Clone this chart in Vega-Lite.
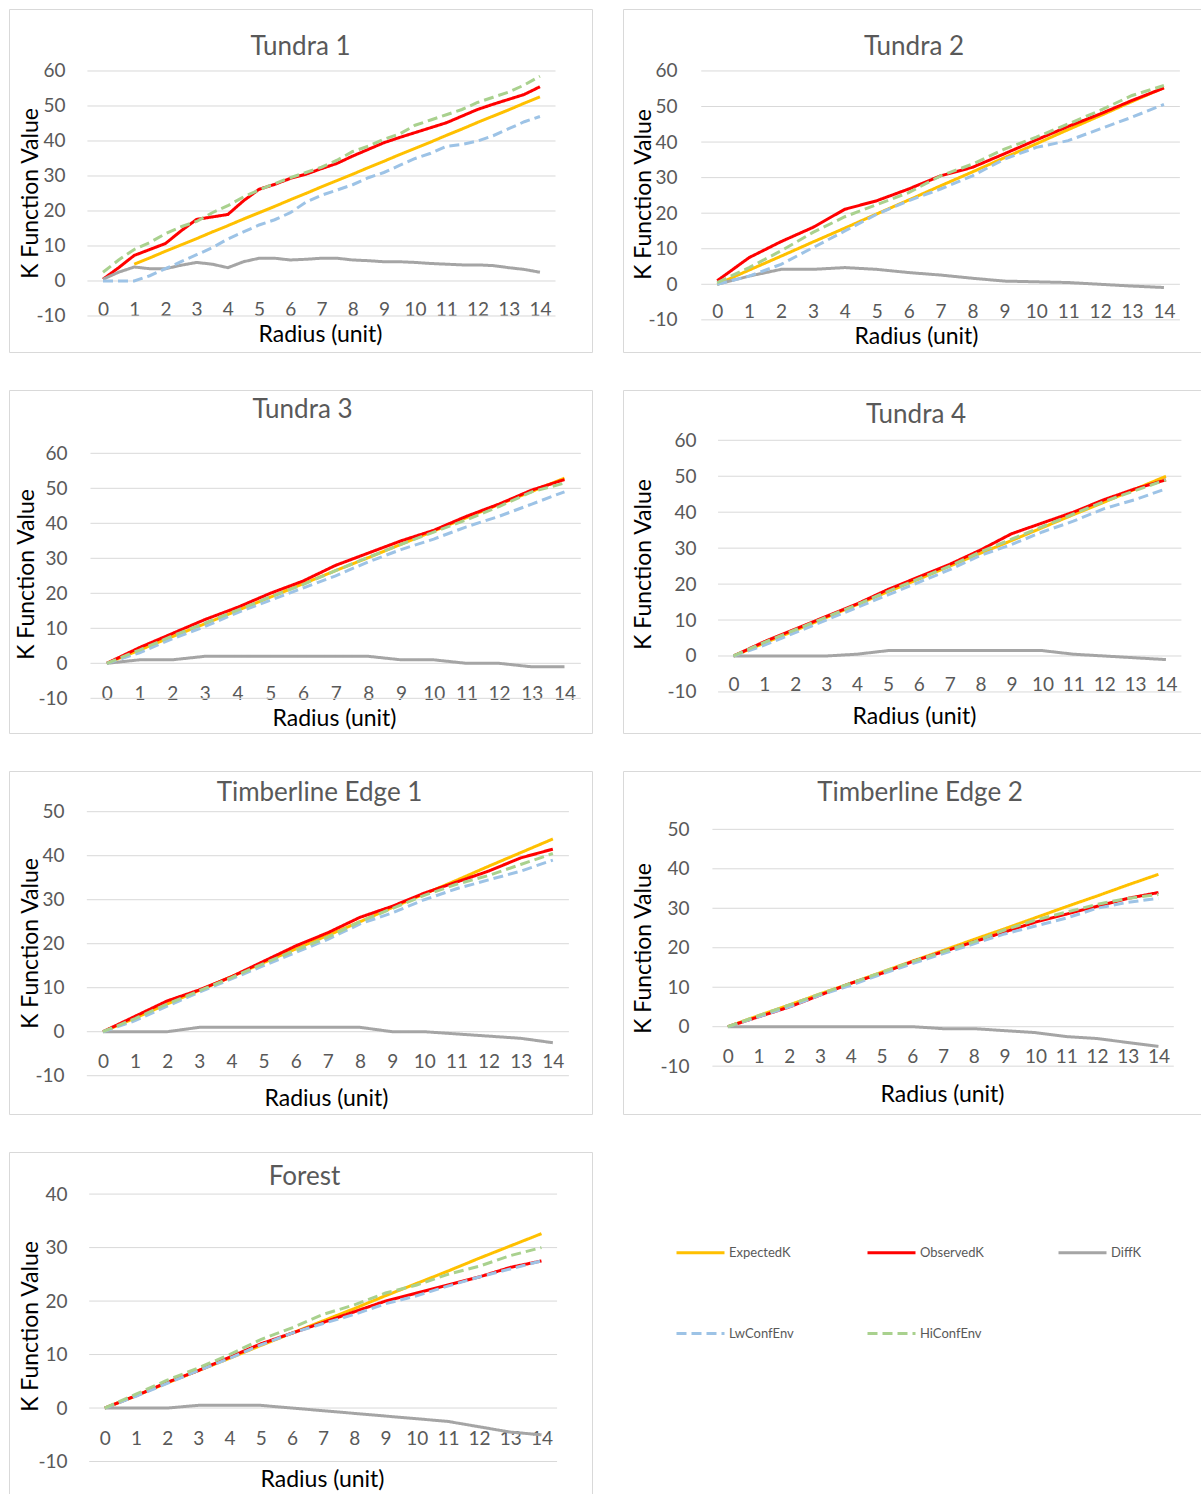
{
  "$schema": "https://vega.github.io/schema/vega-lite/v6.json",
  "background": "white",
  "padding": {"left": 8, "top": 8, "right": 0, "bottom": 0},
  "config": {
    "view": {"stroke": "#D9D9D9", "strokeWidth": 1},
    "title": {"font": "Lato", "fontSize": 26, "fontWeight": "normal", "color": "#595959", "anchor": "middle", "frame": "group"},
    "axis": {"grid": false, "domain": false, "ticks": false, "tickSize": 0, "labelPadding": 0, "labelFont": "Lato", "labelFontSize": 19, "labelColor": "#595959", "labelExpr": "'' + datum.value", "titleFont": "Lato", "titleFontSize": 23, "titleFontWeight": "normal", "titleColor": "#000000", "titleBaseline": "middle", "titleAlign": "center", "labelOverlap": false, "labelBound": false, "labelFlush": false},
    "legend": {"orient": "none", "legendX": 666, "legendY": 1218, "direction": "horizontal", "columns": 3, "symbolType": "stroke", "symbolSize": 2304, "symbolStrokeWidth": 3, "labelFont": "Lato", "labelFontSize": 13, "labelColor": "#595959", "labelOffset": 3, "columnPadding": 67, "rowPadding": 48, "gridAlign": "all", "padding": 0}
  },
  "datasets": {
    "g60": [{"g": -10}, {"g": 0}, {"g": 10}, {"g": 20}, {"g": 30}, {"g": 40}, {"g": 50}, {"g": 60}],
    "g50": [{"g": -10}, {"g": 0}, {"g": 10}, {"g": 20}, {"g": 30}, {"g": 40}, {"g": 50}],
    "g40": [{"g": -10}, {"g": 0}, {"g": 10}, {"g": 20}, {"g": 30}, {"g": 40}],
    "k": [
      {"p": "Tundra 1", "r": 0, "ExpectedK": null, "ObservedK": 0.5, "DiffK": 0.5, "LwConfEnv": 0, "HiConfEnv": 2.5},
      {"p": "Tundra 1", "r": 0.5, "ExpectedK": null, "ObservedK": 3.8, "DiffK": 2.5, "LwConfEnv": 0, "HiConfEnv": 6},
      {"p": "Tundra 1", "r": 1, "ExpectedK": 4.8, "ObservedK": 7.3, "DiffK": 4, "LwConfEnv": 0, "HiConfEnv": 9},
      {"p": "Tundra 1", "r": 1.5, "ExpectedK": 6.6, "ObservedK": 9, "DiffK": 3.5, "LwConfEnv": 1.5, "HiConfEnv": 11},
      {"p": "Tundra 1", "r": 2, "ExpectedK": 8.5, "ObservedK": 10.7, "DiffK": 3.5, "LwConfEnv": 3.5, "HiConfEnv": 13.5},
      {"p": "Tundra 1", "r": 2.5, "ExpectedK": 10.3, "ObservedK": 14.3, "DiffK": 4.5, "LwConfEnv": 5.5, "HiConfEnv": 15.5},
      {"p": "Tundra 1", "r": 3, "ExpectedK": 12.1, "ObservedK": 17.6, "DiffK": 5.3, "LwConfEnv": 7.5, "HiConfEnv": 17},
      {"p": "Tundra 1", "r": 3.5, "ExpectedK": 14, "ObservedK": 18.3, "DiffK": 4.8, "LwConfEnv": 9.5, "HiConfEnv": 19.5},
      {"p": "Tundra 1", "r": 4, "ExpectedK": 15.8, "ObservedK": 19, "DiffK": 3.8, "LwConfEnv": 12, "HiConfEnv": 21.5},
      {"p": "Tundra 1", "r": 4.5, "ExpectedK": 17.7, "ObservedK": 22.9, "DiffK": 5.5, "LwConfEnv": 14, "HiConfEnv": 24},
      {"p": "Tundra 1", "r": 5, "ExpectedK": 19.5, "ObservedK": 26.2, "DiffK": 6.5, "LwConfEnv": 16, "HiConfEnv": 26},
      {"p": "Tundra 1", "r": 5.5, "ExpectedK": 21.3, "ObservedK": 27.6, "DiffK": 6.5, "LwConfEnv": 17.5, "HiConfEnv": 27.8},
      {"p": "Tundra 1", "r": 6, "ExpectedK": 23.2, "ObservedK": 29.3, "DiffK": 6, "LwConfEnv": 19.5, "HiConfEnv": 29.5},
      {"p": "Tundra 1", "r": 6.5, "ExpectedK": 25, "ObservedK": 30.5, "DiffK": 6.2, "LwConfEnv": 22.5, "HiConfEnv": 31},
      {"p": "Tundra 1", "r": 7, "ExpectedK": 26.9, "ObservedK": 32.1, "DiffK": 6.5, "LwConfEnv": 24.5, "HiConfEnv": 32.5},
      {"p": "Tundra 1", "r": 7.5, "ExpectedK": 28.7, "ObservedK": 33.6, "DiffK": 6.5, "LwConfEnv": 26, "HiConfEnv": 34.5},
      {"p": "Tundra 1", "r": 8, "ExpectedK": 30.5, "ObservedK": 35.7, "DiffK": 6, "LwConfEnv": 27.5, "HiConfEnv": 37},
      {"p": "Tundra 1", "r": 8.5, "ExpectedK": 32.4, "ObservedK": 37.6, "DiffK": 5.8, "LwConfEnv": 29.5, "HiConfEnv": 38.5},
      {"p": "Tundra 1", "r": 9, "ExpectedK": 34.2, "ObservedK": 39.5, "DiffK": 5.5, "LwConfEnv": 31, "HiConfEnv": 40.5},
      {"p": "Tundra 1", "r": 9.5, "ExpectedK": 36.1, "ObservedK": 41, "DiffK": 5.5, "LwConfEnv": 33, "HiConfEnv": 42},
      {"p": "Tundra 1", "r": 10, "ExpectedK": 37.9, "ObservedK": 42.4, "DiffK": 5.3, "LwConfEnv": 35, "HiConfEnv": 44.5},
      {"p": "Tundra 1", "r": 10.5, "ExpectedK": 39.7, "ObservedK": 43.8, "DiffK": 5, "LwConfEnv": 36.5, "HiConfEnv": 46},
      {"p": "Tundra 1", "r": 11, "ExpectedK": 41.6, "ObservedK": 45.2, "DiffK": 4.8, "LwConfEnv": 38.5, "HiConfEnv": 47.5},
      {"p": "Tundra 1", "r": 11.5, "ExpectedK": 43.4, "ObservedK": 47.1, "DiffK": 4.6, "LwConfEnv": 39, "HiConfEnv": 49},
      {"p": "Tundra 1", "r": 12, "ExpectedK": 45.3, "ObservedK": 49, "DiffK": 4.6, "LwConfEnv": 40, "HiConfEnv": 51},
      {"p": "Tundra 1", "r": 12.5, "ExpectedK": 47.1, "ObservedK": 50.5, "DiffK": 4.4, "LwConfEnv": 41.5, "HiConfEnv": 52.5},
      {"p": "Tundra 1", "r": 13, "ExpectedK": 48.9, "ObservedK": 51.9, "DiffK": 3.8, "LwConfEnv": 43.5, "HiConfEnv": 54},
      {"p": "Tundra 1", "r": 13.5, "ExpectedK": 50.8, "ObservedK": 53.3, "DiffK": 3.3, "LwConfEnv": 45.5, "HiConfEnv": 56},
      {"p": "Tundra 1", "r": 14, "ExpectedK": 52.6, "ObservedK": 55.5, "DiffK": 2.5, "LwConfEnv": 47, "HiConfEnv": 58.5},

      {"p": "Tundra 2", "r": 0, "ExpectedK": 0, "ObservedK": 1, "DiffK": 0, "LwConfEnv": 0, "HiConfEnv": 0.5},
      {"p": "Tundra 2", "r": 1, "ExpectedK": 4, "ObservedK": 7.5, "DiffK": 2.3, "LwConfEnv": 2.3, "HiConfEnv": 4.7},
      {"p": "Tundra 2", "r": 2, "ExpectedK": 7.9, "ObservedK": 12, "DiffK": 4.2, "LwConfEnv": 5.6, "HiConfEnv": 9.4},
      {"p": "Tundra 2", "r": 3, "ExpectedK": 11.9, "ObservedK": 16, "DiffK": 4.2, "LwConfEnv": 10.3, "HiConfEnv": 14.6},
      {"p": "Tundra 2", "r": 4, "ExpectedK": 15.8, "ObservedK": 21.1, "DiffK": 4.7, "LwConfEnv": 15, "HiConfEnv": 19},
      {"p": "Tundra 2", "r": 5, "ExpectedK": 19.8, "ObservedK": 23.5, "DiffK": 4.2, "LwConfEnv": 19.7, "HiConfEnv": 22.4},
      {"p": "Tundra 2", "r": 6, "ExpectedK": 23.7, "ObservedK": 26.8, "DiffK": 3.3, "LwConfEnv": 23.5, "HiConfEnv": 25.8},
      {"p": "Tundra 2", "r": 7, "ExpectedK": 27.7, "ObservedK": 30.5, "DiffK": 2.6, "LwConfEnv": 26.8, "HiConfEnv": 30.5},
      {"p": "Tundra 2", "r": 8, "ExpectedK": 31.6, "ObservedK": 32.9, "DiffK": 1.7, "LwConfEnv": 30.5, "HiConfEnv": 33.8},
      {"p": "Tundra 2", "r": 9, "ExpectedK": 35.6, "ObservedK": 36.7, "DiffK": 0.9, "LwConfEnv": 35.2, "HiConfEnv": 38},
      {"p": "Tundra 2", "r": 10, "ExpectedK": 39.5, "ObservedK": 40.6, "DiffK": 0.7, "LwConfEnv": 38.5, "HiConfEnv": 41.4},
      {"p": "Tundra 2", "r": 11, "ExpectedK": 43.5, "ObservedK": 44.4, "DiffK": 0.5, "LwConfEnv": 40.4, "HiConfEnv": 45.1},
      {"p": "Tundra 2", "r": 12, "ExpectedK": 47.4, "ObservedK": 47.9, "DiffK": 0, "LwConfEnv": 43.7, "HiConfEnv": 48.9},
      {"p": "Tundra 2", "r": 13, "ExpectedK": 51.4, "ObservedK": 51.7, "DiffK": -0.5, "LwConfEnv": 47, "HiConfEnv": 53.1},
      {"p": "Tundra 2", "r": 14, "ExpectedK": 55.3, "ObservedK": 55.2, "DiffK": -0.9, "LwConfEnv": 50.6, "HiConfEnv": 55.9},

      {"p": "Tundra 3", "r": 0, "ExpectedK": 0, "ObservedK": 0, "DiffK": 0, "LwConfEnv": 0, "HiConfEnv": 0},
      {"p": "Tundra 3", "r": 1, "ExpectedK": 3.8, "ObservedK": 4.5, "DiffK": 1, "LwConfEnv": 3, "HiConfEnv": 3.8},
      {"p": "Tundra 3", "r": 2, "ExpectedK": 7.6, "ObservedK": 8.5, "DiffK": 1, "LwConfEnv": 7, "HiConfEnv": 7.8},
      {"p": "Tundra 3", "r": 3, "ExpectedK": 11.3, "ObservedK": 12.5, "DiffK": 2, "LwConfEnv": 10.5, "HiConfEnv": 11.5},
      {"p": "Tundra 3", "r": 4, "ExpectedK": 15.1, "ObservedK": 16, "DiffK": 2, "LwConfEnv": 14.5, "HiConfEnv": 15.2},
      {"p": "Tundra 3", "r": 5, "ExpectedK": 18.9, "ObservedK": 20, "DiffK": 2, "LwConfEnv": 18, "HiConfEnv": 19},
      {"p": "Tundra 3", "r": 6, "ExpectedK": 22.7, "ObservedK": 23.5, "DiffK": 2, "LwConfEnv": 21.5, "HiConfEnv": 22.5},
      {"p": "Tundra 3", "r": 7, "ExpectedK": 26.5, "ObservedK": 28, "DiffK": 2, "LwConfEnv": 25, "HiConfEnv": 26.5},
      {"p": "Tundra 3", "r": 8, "ExpectedK": 30.2, "ObservedK": 31.5, "DiffK": 2, "LwConfEnv": 29, "HiConfEnv": 30.3},
      {"p": "Tundra 3", "r": 9, "ExpectedK": 34, "ObservedK": 35, "DiffK": 1, "LwConfEnv": 32.5, "HiConfEnv": 34},
      {"p": "Tundra 3", "r": 10, "ExpectedK": 37.8, "ObservedK": 38, "DiffK": 1, "LwConfEnv": 35.5, "HiConfEnv": 37.5},
      {"p": "Tundra 3", "r": 11, "ExpectedK": 41.6, "ObservedK": 42, "DiffK": 0, "LwConfEnv": 39, "HiConfEnv": 41},
      {"p": "Tundra 3", "r": 12, "ExpectedK": 45.4, "ObservedK": 45.5, "DiffK": 0, "LwConfEnv": 42, "HiConfEnv": 44.8},
      {"p": "Tundra 3", "r": 13, "ExpectedK": 49.1, "ObservedK": 49.5, "DiffK": -1, "LwConfEnv": 45.5, "HiConfEnv": 49},
      {"p": "Tundra 3", "r": 14, "ExpectedK": 52.9, "ObservedK": 52.5, "DiffK": -1, "LwConfEnv": 49, "HiConfEnv": 51.5},

      {"p": "Tundra 4", "r": 0, "ExpectedK": 0, "ObservedK": 0, "DiffK": 0, "LwConfEnv": 0, "HiConfEnv": 0},
      {"p": "Tundra 4", "r": 1, "ExpectedK": 3.6, "ObservedK": 4, "DiffK": 0, "LwConfEnv": 3, "HiConfEnv": 3.8},
      {"p": "Tundra 4", "r": 2, "ExpectedK": 7.1, "ObservedK": 7.5, "DiffK": 0, "LwConfEnv": 6.5, "HiConfEnv": 7.3},
      {"p": "Tundra 4", "r": 3, "ExpectedK": 10.7, "ObservedK": 11, "DiffK": 0, "LwConfEnv": 10, "HiConfEnv": 10.8},
      {"p": "Tundra 4", "r": 4, "ExpectedK": 14.3, "ObservedK": 14.5, "DiffK": 0.5, "LwConfEnv": 13.5, "HiConfEnv": 14.3},
      {"p": "Tundra 4", "r": 5, "ExpectedK": 17.9, "ObservedK": 18.5, "DiffK": 1.5, "LwConfEnv": 17, "HiConfEnv": 18},
      {"p": "Tundra 4", "r": 6, "ExpectedK": 21.4, "ObservedK": 22, "DiffK": 1.5, "LwConfEnv": 20.5, "HiConfEnv": 21.5},
      {"p": "Tundra 4", "r": 7, "ExpectedK": 25, "ObservedK": 25.5, "DiffK": 1.5, "LwConfEnv": 24, "HiConfEnv": 25},
      {"p": "Tundra 4", "r": 8, "ExpectedK": 28.6, "ObservedK": 29.5, "DiffK": 1.5, "LwConfEnv": 28, "HiConfEnv": 29},
      {"p": "Tundra 4", "r": 9, "ExpectedK": 32.1, "ObservedK": 34, "DiffK": 1.5, "LwConfEnv": 31, "HiConfEnv": 32.5},
      {"p": "Tundra 4", "r": 10, "ExpectedK": 35.7, "ObservedK": 37, "DiffK": 1.5, "LwConfEnv": 34.5, "HiConfEnv": 36},
      {"p": "Tundra 4", "r": 11, "ExpectedK": 39.3, "ObservedK": 40, "DiffK": 0.5, "LwConfEnv": 37.5, "HiConfEnv": 39.5},
      {"p": "Tundra 4", "r": 12, "ExpectedK": 42.8, "ObservedK": 43.5, "DiffK": 0, "LwConfEnv": 41, "HiConfEnv": 43},
      {"p": "Tundra 4", "r": 13, "ExpectedK": 46.4, "ObservedK": 46.5, "DiffK": -0.5, "LwConfEnv": 43.5, "HiConfEnv": 46},
      {"p": "Tundra 4", "r": 14, "ExpectedK": 50, "ObservedK": 49, "DiffK": -1, "LwConfEnv": 46.5, "HiConfEnv": 49},

      {"p": "Timberline Edge 1", "r": 0, "ExpectedK": 0, "ObservedK": 0, "DiffK": 0, "LwConfEnv": 0, "HiConfEnv": 0},
      {"p": "Timberline Edge 1", "r": 1, "ExpectedK": 3.1, "ObservedK": 3.5, "DiffK": 0, "LwConfEnv": 2.5, "HiConfEnv": 3},
      {"p": "Timberline Edge 1", "r": 2, "ExpectedK": 6.3, "ObservedK": 7, "DiffK": 0, "LwConfEnv": 5.8, "HiConfEnv": 6.3},
      {"p": "Timberline Edge 1", "r": 3, "ExpectedK": 9.4, "ObservedK": 9.5, "DiffK": 1, "LwConfEnv": 9, "HiConfEnv": 9.3},
      {"p": "Timberline Edge 1", "r": 4, "ExpectedK": 12.5, "ObservedK": 12.5, "DiffK": 1, "LwConfEnv": 12, "HiConfEnv": 12.3},
      {"p": "Timberline Edge 1", "r": 5, "ExpectedK": 15.7, "ObservedK": 16, "DiffK": 1, "LwConfEnv": 15, "HiConfEnv": 15.5},
      {"p": "Timberline Edge 1", "r": 6, "ExpectedK": 18.8, "ObservedK": 19.5, "DiffK": 1, "LwConfEnv": 18, "HiConfEnv": 18.5},
      {"p": "Timberline Edge 1", "r": 7, "ExpectedK": 21.9, "ObservedK": 22.5, "DiffK": 1, "LwConfEnv": 21, "HiConfEnv": 21.5},
      {"p": "Timberline Edge 1", "r": 8, "ExpectedK": 25, "ObservedK": 26, "DiffK": 1, "LwConfEnv": 24.5, "HiConfEnv": 25},
      {"p": "Timberline Edge 1", "r": 9, "ExpectedK": 28.2, "ObservedK": 28.5, "DiffK": 0, "LwConfEnv": 27, "HiConfEnv": 28},
      {"p": "Timberline Edge 1", "r": 10, "ExpectedK": 31.3, "ObservedK": 31.5, "DiffK": 0, "LwConfEnv": 30, "HiConfEnv": 31},
      {"p": "Timberline Edge 1", "r": 11, "ExpectedK": 34.4, "ObservedK": 34, "DiffK": -0.5, "LwConfEnv": 32.5, "HiConfEnv": 33.5},
      {"p": "Timberline Edge 1", "r": 12, "ExpectedK": 37.6, "ObservedK": 36.5, "DiffK": -1, "LwConfEnv": 34.5, "HiConfEnv": 35.5},
      {"p": "Timberline Edge 1", "r": 13, "ExpectedK": 40.7, "ObservedK": 39.5, "DiffK": -1.5, "LwConfEnv": 36.5, "HiConfEnv": 38},
      {"p": "Timberline Edge 1", "r": 14, "ExpectedK": 43.8, "ObservedK": 41.5, "DiffK": -2.5, "LwConfEnv": 39, "HiConfEnv": 40.5},

      {"p": "Timberline Edge 2", "r": 0, "ExpectedK": 0, "ObservedK": 0, "DiffK": 0, "LwConfEnv": 0, "HiConfEnv": 0},
      {"p": "Timberline Edge 2", "r": 1, "ExpectedK": 2.8, "ObservedK": 2.5, "DiffK": 0, "LwConfEnv": 2.5, "HiConfEnv": 2.8},
      {"p": "Timberline Edge 2", "r": 2, "ExpectedK": 5.5, "ObservedK": 5, "DiffK": 0, "LwConfEnv": 5, "HiConfEnv": 5.5},
      {"p": "Timberline Edge 2", "r": 3, "ExpectedK": 8.3, "ObservedK": 8, "DiffK": 0, "LwConfEnv": 8, "HiConfEnv": 8.3},
      {"p": "Timberline Edge 2", "r": 4, "ExpectedK": 11, "ObservedK": 11, "DiffK": 0, "LwConfEnv": 10.5, "HiConfEnv": 11},
      {"p": "Timberline Edge 2", "r": 5, "ExpectedK": 13.8, "ObservedK": 13.5, "DiffK": 0, "LwConfEnv": 13.3, "HiConfEnv": 13.8},
      {"p": "Timberline Edge 2", "r": 6, "ExpectedK": 16.6, "ObservedK": 16.5, "DiffK": 0, "LwConfEnv": 16, "HiConfEnv": 16.5},
      {"p": "Timberline Edge 2", "r": 7, "ExpectedK": 19.3, "ObservedK": 19, "DiffK": -0.5, "LwConfEnv": 18.5, "HiConfEnv": 19},
      {"p": "Timberline Edge 2", "r": 8, "ExpectedK": 22.1, "ObservedK": 21.5, "DiffK": -0.5, "LwConfEnv": 21, "HiConfEnv": 21.5},
      {"p": "Timberline Edge 2", "r": 9, "ExpectedK": 24.8, "ObservedK": 24, "DiffK": -1, "LwConfEnv": 23.5, "HiConfEnv": 24.5},
      {"p": "Timberline Edge 2", "r": 10, "ExpectedK": 27.6, "ObservedK": 26.5, "DiffK": -1.5, "LwConfEnv": 25.5, "HiConfEnv": 27},
      {"p": "Timberline Edge 2", "r": 11, "ExpectedK": 30.4, "ObservedK": 28.5, "DiffK": -2.5, "LwConfEnv": 27.5, "HiConfEnv": 29},
      {"p": "Timberline Edge 2", "r": 12, "ExpectedK": 33.1, "ObservedK": 30.5, "DiffK": -3, "LwConfEnv": 30, "HiConfEnv": 31},
      {"p": "Timberline Edge 2", "r": 13, "ExpectedK": 35.9, "ObservedK": 32.5, "DiffK": -4, "LwConfEnv": 31.5, "HiConfEnv": 32.5},
      {"p": "Timberline Edge 2", "r": 14, "ExpectedK": 38.6, "ObservedK": 34, "DiffK": -5, "LwConfEnv": 32.5, "HiConfEnv": 33.5},

      {"p": "Forest", "r": 0, "ExpectedK": 0, "ObservedK": 0, "DiffK": 0, "LwConfEnv": 0, "HiConfEnv": 0},
      {"p": "Forest", "r": 1, "ExpectedK": 2.3, "ObservedK": 2.3, "DiffK": 0, "LwConfEnv": 2.2, "HiConfEnv": 2.6},
      {"p": "Forest", "r": 2, "ExpectedK": 4.7, "ObservedK": 4.8, "DiffK": 0, "LwConfEnv": 4.6, "HiConfEnv": 5.2},
      {"p": "Forest", "r": 3, "ExpectedK": 7, "ObservedK": 7, "DiffK": 0.5, "LwConfEnv": 7, "HiConfEnv": 7.5},
      {"p": "Forest", "r": 4, "ExpectedK": 9.3, "ObservedK": 9.5, "DiffK": 0.5, "LwConfEnv": 9.3, "HiConfEnv": 10},
      {"p": "Forest", "r": 5, "ExpectedK": 11.7, "ObservedK": 12, "DiffK": 0.5, "LwConfEnv": 11.8, "HiConfEnv": 12.8},
      {"p": "Forest", "r": 6, "ExpectedK": 14, "ObservedK": 14, "DiffK": 0, "LwConfEnv": 14, "HiConfEnv": 15},
      {"p": "Forest", "r": 7, "ExpectedK": 16.3, "ObservedK": 16, "DiffK": -0.5, "LwConfEnv": 15.8, "HiConfEnv": 17.5},
      {"p": "Forest", "r": 8, "ExpectedK": 18.6, "ObservedK": 18, "DiffK": -1, "LwConfEnv": 17.5, "HiConfEnv": 19.3},
      {"p": "Forest", "r": 9, "ExpectedK": 21, "ObservedK": 20, "DiffK": -1.5, "LwConfEnv": 19.5, "HiConfEnv": 21.5},
      {"p": "Forest", "r": 10, "ExpectedK": 23.3, "ObservedK": 21.5, "DiffK": -2, "LwConfEnv": 21, "HiConfEnv": 23},
      {"p": "Forest", "r": 11, "ExpectedK": 25.6, "ObservedK": 23, "DiffK": -2.5, "LwConfEnv": 22.8, "HiConfEnv": 25},
      {"p": "Forest", "r": 12, "ExpectedK": 28, "ObservedK": 24.5, "DiffK": -3.5, "LwConfEnv": 24.5, "HiConfEnv": 26.5},
      {"p": "Forest", "r": 13, "ExpectedK": 30.3, "ObservedK": 26.3, "DiffK": -4.5, "LwConfEnv": 26, "HiConfEnv": 28.5},
      {"p": "Forest", "r": 14, "ExpectedK": 32.6, "ObservedK": 27.5, "DiffK": -5, "LwConfEnv": 27.5, "HiConfEnv": 30}
    ]
  },
  "columns": 2,
  "spacing": {"row": 36, "column": 29},
  "resolve": {"scale": {"x": "independent", "y": "independent", "color": "shared", "strokeDash": "shared"}, "axis": {"x": "independent", "y": "independent"}, "legend": {"color": "shared", "strokeDash": "shared"}},
  "concat": [
    {
      "width": 583, "height": 343,
      "title": {"text": "Tundra 1", "offset": -51, "dx": 0},
      "layer": [
        {"data": {"name": "g60"}, "mark": {"type": "rule", "color": "#D9D9D9", "strokeWidth": 1},
         "encoding": {"y": {"field": "g", "type": "quantitative", "scale": {"domain": [-20.29, 77.71], "nice": false, "zero": false},
                            "axis": {"values": [-10,0,10,20,30,40,50,60], "offset": -56, "title": "K Function Value", "titleX": -35, "titleY": 184, "titleAngle": -90}},
                      "x": {"datum": -0.5, "type": "quantitative", "scale": {"domain": [-3.012, 15.668], "nice": false, "zero": false},
                            "axis": {"values": [0,1,2,3,4,5,6,7,8,9,10,11,12,13,14], "offset": -52, "title": "Radius (unit)", "titleX": 311, "titleY": 34}},
                      "x2": {"datum": 14.5}}},
        {"data": {"name": "k"},
         "transform": [{"filter": "datum.p == 'Tundra 1'"}, {"fold": ["ExpectedK", "ObservedK", "DiffK", "LwConfEnv", "HiConfEnv"], "as": ["series", "K"]}],
         "mark": {"type": "line", "strokeWidth": 3},
         "encoding": {
           "x": {"field": "r", "type": "quantitative", "scale": {"domain": [-3.012, 15.668], "nice": false, "zero": false},
                 "axis": {"values": [0,1,2,3,4,5,6,7,8,9,10,11,12,13,14], "offset": -52, "title": "Radius (unit)", "titleX": 311, "titleY": 34}},
           "y": {"field": "K", "type": "quantitative", "scale": {"domain": [-20.29, 77.71], "nice": false, "zero": false},
                 "axis": {"values": [-10,0,10,20,30,40,50,60], "offset": -56, "title": "K Function Value", "titleX": -35, "titleY": 184, "titleAngle": -90}},
           "color": {"field": "series", "type": "nominal", "title": null, "scale": {"domain": ["ExpectedK", "ObservedK", "DiffK", "LwConfEnv", "HiConfEnv"], "range": ["#FFC000", "#FF0000", "#A5A5A5", "#9DC3E6", "#A9D18E"]}},
           "strokeDash": {"field": "series", "type": "nominal", "title": null, "scale": {"domain": ["ExpectedK", "ObservedK", "DiffK", "LwConfEnv", "HiConfEnv"], "range": [[1, 0], [1, 0], [1, 0], [10, 5], [10, 5]]}}
         }}
      ]
    },
    {
      "width": 580, "height": 343,
      "title": {"text": "Tundra 2", "offset": -51, "dx": 1},
      "layer": [
        {"data": {"name": "g60"}, "mark": {"type": "rule", "color": "#D9D9D9", "strokeWidth": 1},
         "encoding": {"y": {"field": "g", "type": "quantitative", "scale": {"domain": [-19.04, 77.42], "nice": false, "zero": false},
                            "axis": {"values": [-10,0,10,20,30,40,50,60], "offset": -54, "title": "K Function Value", "titleX": -34, "titleY": 185, "titleAngle": -90}},
                      "x": {"datum": -0.5, "type": "quantitative", "scale": {"domain": [-2.952, 15.224], "nice": false, "zero": false},
                            "axis": {"values": [0,1,2,3,4,5,6,7,8,9,10,11,12,13,14], "offset": -50, "title": "Radius (unit)", "titleX": 293, "titleY": 34}},
                      "x2": {"datum": 14.5}}},
        {"data": {"name": "k"},
         "transform": [{"filter": "datum.p == 'Tundra 2'"}, {"fold": ["ExpectedK", "ObservedK", "DiffK", "LwConfEnv", "HiConfEnv"], "as": ["series", "K"]}],
         "mark": {"type": "line", "strokeWidth": 3},
         "encoding": {
           "x": {"field": "r", "type": "quantitative", "scale": {"domain": [-2.952, 15.224], "nice": false, "zero": false},
                 "axis": {"values": [0,1,2,3,4,5,6,7,8,9,10,11,12,13,14], "offset": -50, "title": "Radius (unit)", "titleX": 293, "titleY": 34}},
           "y": {"field": "K", "type": "quantitative", "scale": {"domain": [-19.04, 77.42], "nice": false, "zero": false},
                 "axis": {"values": [-10,0,10,20,30,40,50,60], "offset": -54, "title": "K Function Value", "titleX": -34, "titleY": 185, "titleAngle": -90}},
           "color": {"field": "series", "type": "nominal", "title": null, "scale": {"domain": ["ExpectedK", "ObservedK", "DiffK", "LwConfEnv", "HiConfEnv"], "range": ["#FFC000", "#FF0000", "#A5A5A5", "#9DC3E6", "#A9D18E"]}},
           "strokeDash": {"field": "series", "type": "nominal", "title": null, "scale": {"domain": ["ExpectedK", "ObservedK", "DiffK", "LwConfEnv", "HiConfEnv"], "range": [[1, 0], [1, 0], [1, 0], [10, 5], [10, 5]]}}
         }}
      ]
    },
    {
      "width": 583, "height": 343,
      "title": {"text": "Tundra 3", "offset": -33, "dx": 2},
      "layer": [
        {"data": {"name": "g60"}, "mark": {"type": "rule", "color": "#D9D9D9", "strokeWidth": 1},
         "encoding": {"y": {"field": "g", "type": "quantitative", "scale": {"domain": [-19.91, 78.09], "nice": false, "zero": false},
                            "axis": {"values": [-10,0,10,20,30,40,50,60], "offset": -58, "title": "K Function Value", "titleX": -41, "titleY": 184, "titleAngle": -90}},
                      "x": {"datum": -0.5, "type": "quantitative", "scale": {"domain": [-2.992, 14.842], "nice": false, "zero": false},
                            "axis": {"values": [0,1,2,3,4,5,6,7,8,9,10,11,12,13,14], "offset": -49, "title": "Radius (unit)", "titleX": 325, "titleY": 34}},
                      "x2": {"datum": 14.5}}},
        {"data": {"name": "k"},
         "transform": [{"filter": "datum.p == 'Tundra 3'"}, {"fold": ["ExpectedK", "ObservedK", "DiffK", "LwConfEnv", "HiConfEnv"], "as": ["series", "K"]}],
         "mark": {"type": "line", "strokeWidth": 3},
         "encoding": {
           "x": {"field": "r", "type": "quantitative", "scale": {"domain": [-2.992, 14.842], "nice": false, "zero": false},
                 "axis": {"values": [0,1,2,3,4,5,6,7,8,9,10,11,12,13,14], "offset": -49, "title": "Radius (unit)", "titleX": 325, "titleY": 34}},
           "y": {"field": "K", "type": "quantitative", "scale": {"domain": [-19.91, 78.09], "nice": false, "zero": false},
                 "axis": {"values": [-10,0,10,20,30,40,50,60], "offset": -58, "title": "K Function Value", "titleX": -41, "titleY": 184, "titleAngle": -90}},
           "color": {"field": "series", "type": "nominal", "title": null, "scale": {"domain": ["ExpectedK", "ObservedK", "DiffK", "LwConfEnv", "HiConfEnv"], "range": ["#FFC000", "#FF0000", "#A5A5A5", "#9DC3E6", "#A9D18E"]}},
           "strokeDash": {"field": "series", "type": "nominal", "title": null, "scale": {"domain": ["ExpectedK", "ObservedK", "DiffK", "LwConfEnv", "HiConfEnv"], "range": [[1, 0], [1, 0], [1, 0], [10, 5], [10, 5]]}}
         }}
      ]
    },
    {
      "width": 580, "height": 343,
      "title": {"text": "Tundra 4", "offset": -38, "dx": 3},
      "layer": [
        {"data": {"name": "g60"}, "mark": {"type": "rule", "color": "#D9D9D9", "strokeWidth": 1},
         "encoding": {"y": {"field": "g", "type": "quantitative", "scale": {"domain": [-21.42, 73.99], "nice": false, "zero": false},
                            "axis": {"values": [-10,0,10,20,30,40,50,60], "offset": -73, "title": "K Function Value", "titleX": -53, "titleY": 174, "titleAngle": -90}},
                      "x": {"datum": -0.5, "type": "quantitative", "scale": {"domain": [-3.577, 15.199], "nice": false, "zero": false},
                            "axis": {"values": [0,1,2,3,4,5,6,7,8,9,10,11,12,13,14], "offset": -58, "title": "Radius (unit)", "titleX": 291, "titleY": 41}},
                      "x2": {"datum": 14.5}}},
        {"data": {"name": "k"},
         "transform": [{"filter": "datum.p == 'Tundra 4'"}, {"fold": ["ExpectedK", "ObservedK", "DiffK", "LwConfEnv", "HiConfEnv"], "as": ["series", "K"]}],
         "mark": {"type": "line", "strokeWidth": 3},
         "encoding": {
           "x": {"field": "r", "type": "quantitative", "scale": {"domain": [-3.577, 15.199], "nice": false, "zero": false},
                 "axis": {"values": [0,1,2,3,4,5,6,7,8,9,10,11,12,13,14], "offset": -58, "title": "Radius (unit)", "titleX": 291, "titleY": 41}},
           "y": {"field": "K", "type": "quantitative", "scale": {"domain": [-21.42, 73.99], "nice": false, "zero": false},
                 "axis": {"values": [-10,0,10,20,30,40,50,60], "offset": -73, "title": "K Function Value", "titleX": -53, "titleY": 174, "titleAngle": -90}},
           "color": {"field": "series", "type": "nominal", "title": null, "scale": {"domain": ["ExpectedK", "ObservedK", "DiffK", "LwConfEnv", "HiConfEnv"], "range": ["#FFC000", "#FF0000", "#A5A5A5", "#9DC3E6", "#A9D18E"]}},
           "strokeDash": {"field": "series", "type": "nominal", "title": null, "scale": {"domain": ["ExpectedK", "ObservedK", "DiffK", "LwConfEnv", "HiConfEnv"], "range": [[1, 0], [1, 0], [1, 0], [10, 5], [10, 5]]}}
         }}
      ]
    },
    {
      "width": 583, "height": 343,
      "title": {"text": "Timberline Edge 1", "offset": -35, "dx": 19},
      "layer": [
        {"data": {"name": "g50"}, "mark": {"type": "rule", "color": "#D9D9D9", "strokeWidth": 1},
         "encoding": {"y": {"field": "g", "type": "quantitative", "scale": {"domain": [-18.70, 59.25], "nice": false, "zero": false},
                            "axis": {"values": [-10,0,10,20,30,40,50], "offset": -55, "title": "K Function Value", "titleX": -34, "titleY": 172, "titleAngle": -90}},
                      "x": {"datum": -0.5, "type": "quantitative", "scale": {"domain": [-2.922, 15.218], "nice": false, "zero": false},
                            "axis": {"values": [0,1,2,3,4,5,6,7,8,9,10,11,12,13,14], "offset": -62, "title": "Radius (unit)", "titleX": 317, "titleY": 46}},
                      "x2": {"datum": 14.5}}},
        {"data": {"name": "k"},
         "transform": [{"filter": "datum.p == 'Timberline Edge 1'"}, {"fold": ["ExpectedK", "ObservedK", "DiffK", "LwConfEnv", "HiConfEnv"], "as": ["series", "K"]}],
         "mark": {"type": "line", "strokeWidth": 3},
         "encoding": {
           "x": {"field": "r", "type": "quantitative", "scale": {"domain": [-2.922, 15.218], "nice": false, "zero": false},
                 "axis": {"values": [0,1,2,3,4,5,6,7,8,9,10,11,12,13,14], "offset": -62, "title": "Radius (unit)", "titleX": 317, "titleY": 46}},
           "y": {"field": "K", "type": "quantitative", "scale": {"domain": [-18.70, 59.25], "nice": false, "zero": false},
                 "axis": {"values": [-10,0,10,20,30,40,50], "offset": -55, "title": "K Function Value", "titleX": -34, "titleY": 172, "titleAngle": -90}},
           "color": {"field": "series", "type": "nominal", "title": null, "scale": {"domain": ["ExpectedK", "ObservedK", "DiffK", "LwConfEnv", "HiConfEnv"], "range": ["#FFC000", "#FF0000", "#A5A5A5", "#9DC3E6", "#A9D18E"]}},
           "strokeDash": {"field": "series", "type": "nominal", "title": null, "scale": {"domain": ["ExpectedK", "ObservedK", "DiffK", "LwConfEnv", "HiConfEnv"], "range": [[1, 0], [1, 0], [1, 0], [10, 5], [10, 5]]}}
         }}
      ]
    },
    {
      "width": 580, "height": 343,
      "title": {"text": "Timberline Edge 2", "offset": -35, "dx": 7},
      "layer": [
        {"data": {"name": "g50"}, "mark": {"type": "rule", "color": "#D9D9D9", "strokeWidth": 1},
         "encoding": {"y": {"field": "g", "type": "quantitative", "scale": {"domain": [-22.12, 64.78], "nice": false, "zero": false},
                            "axis": {"values": [-10,0,10,20,30,40,50], "offset": -66, "title": "K Function Value", "titleX": -46, "titleY": 177, "titleAngle": -90}},
                      "x": {"datum": -0.5, "type": "quantitative", "scale": {"domain": [-3.407, 15.449], "nice": false, "zero": false},
                            "axis": {"values": [0,1,2,3,4,5,6,7,8,9,10,11,12,13,14], "offset": -67, "title": "Radius (unit)", "titleX": 319, "titleY": 47}},
                      "x2": {"datum": 14.5}}},
        {"data": {"name": "k"},
         "transform": [{"filter": "datum.p == 'Timberline Edge 2'"}, {"fold": ["ExpectedK", "ObservedK", "DiffK", "LwConfEnv", "HiConfEnv"], "as": ["series", "K"]}],
         "mark": {"type": "line", "strokeWidth": 3},
         "encoding": {
           "x": {"field": "r", "type": "quantitative", "scale": {"domain": [-3.407, 15.449], "nice": false, "zero": false},
                 "axis": {"values": [0,1,2,3,4,5,6,7,8,9,10,11,12,13,14], "offset": -67, "title": "Radius (unit)", "titleX": 319, "titleY": 47}},
           "y": {"field": "K", "type": "quantitative", "scale": {"domain": [-22.12, 64.78], "nice": false, "zero": false},
                 "axis": {"values": [-10,0,10,20,30,40,50], "offset": -66, "title": "K Function Value", "titleX": -46, "titleY": 177, "titleAngle": -90}},
           "color": {"field": "series", "type": "nominal", "title": null, "scale": {"domain": ["ExpectedK", "ObservedK", "DiffK", "LwConfEnv", "HiConfEnv"], "range": ["#FFC000", "#FF0000", "#A5A5A5", "#9DC3E6", "#A9D18E"]}},
           "strokeDash": {"field": "series", "type": "nominal", "title": null, "scale": {"domain": ["ExpectedK", "ObservedK", "DiffK", "LwConfEnv", "HiConfEnv"], "range": [[1, 0], [1, 0], [1, 0], [10, 5], [10, 5]]}}
         }}
      ]
    },
    {
      "width": 583, "height": 346,
      "title": {"text": "Forest", "offset": -38, "dx": 4},
      "layer": [
        {"data": {"name": "g40"}, "mark": {"type": "rule", "color": "#D9D9D9", "strokeWidth": 1},
         "encoding": {"y": {"field": "g", "type": "quantitative", "scale": {"domain": [-16.82, 47.87], "nice": false, "zero": false},
                            "axis": {"values": [-10,0,10,20,30,40], "offset": -58, "title": "K Function Value", "titleX": -37, "titleY": 174, "titleAngle": -90}},
                      "x": {"datum": -0.5, "type": "quantitative", "scale": {"domain": [-3.071, 15.62], "nice": false, "zero": false},
                            "axis": {"values": [0,1,2,3,4,5,6,7,8,9,10,11,12,13,14], "offset": -69, "title": "Radius (unit)", "titleX": 313, "titleY": 50}},
                      "x2": {"datum": 14.5}}},
        {"data": {"name": "k"},
         "transform": [{"filter": "datum.p == 'Forest'"}, {"fold": ["ExpectedK", "ObservedK", "DiffK", "LwConfEnv", "HiConfEnv"], "as": ["series", "K"]}],
         "mark": {"type": "line", "strokeWidth": 3},
         "encoding": {
           "x": {"field": "r", "type": "quantitative", "scale": {"domain": [-3.071, 15.62], "nice": false, "zero": false},
                 "axis": {"values": [0,1,2,3,4,5,6,7,8,9,10,11,12,13,14], "offset": -69, "title": "Radius (unit)", "titleX": 313, "titleY": 50}},
           "y": {"field": "K", "type": "quantitative", "scale": {"domain": [-16.82, 47.87], "nice": false, "zero": false},
                 "axis": {"values": [-10,0,10,20,30,40], "offset": -58, "title": "K Function Value", "titleX": -37, "titleY": 174, "titleAngle": -90}},
           "color": {"field": "series", "type": "nominal", "title": null, "scale": {"domain": ["ExpectedK", "ObservedK", "DiffK", "LwConfEnv", "HiConfEnv"], "range": ["#FFC000", "#FF0000", "#A5A5A5", "#9DC3E6", "#A9D18E"]}},
           "strokeDash": {"field": "series", "type": "nominal", "title": null, "scale": {"domain": ["ExpectedK", "ObservedK", "DiffK", "LwConfEnv", "HiConfEnv"], "range": [[1, 0], [1, 0], [1, 0], [10, 5], [10, 5]]}}
         }}
      ]
    }
  ]
}
